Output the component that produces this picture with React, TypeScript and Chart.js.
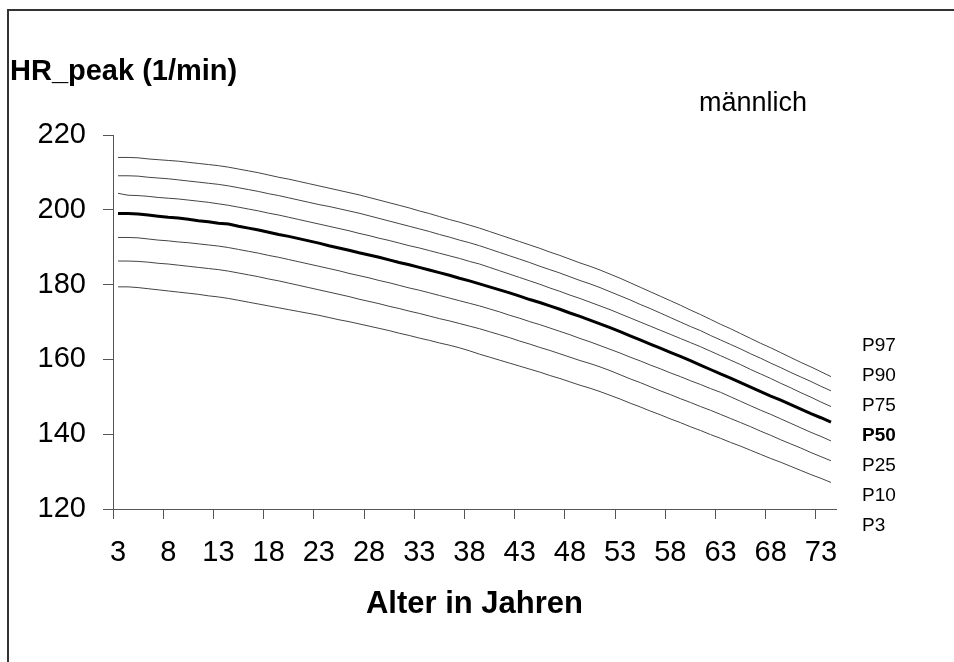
import { useEffect, useRef } from 'react';
import { Chart, registerables } from 'chart.js';

Chart.register(...registerables);

const ages = [
  '3', '4', '5', '6', '7', '8', '9', '10', '11', '12', '13', '14', '15', '16', '17', '18', '19', '20',
  '21', '22', '23', '24', '25', '26', '27', '28', '29', '30', '31', '32', '33', '34', '35', '36', '37', '38',
  '39', '40', '41', '42', '43', '44', '45', '46', '47', '48', '49', '50', '51', '52', '53', '54', '55', '56',
  '57', '58', '59', '60', '61', '62', '63', '64', '65', '66', '67', '68', '69', '70', '71', '72', '73', '74',
];

const p97 = [
  214.0, 214.0, 213.9, 213.6, 213.4, 213.2, 213.0, 212.7, 212.4, 212.1, 211.8, 211.4, 210.9, 210.4, 209.9, 209.3, 208.7, 208.2,
  207.6, 207.0, 206.4, 205.8, 205.2, 204.6, 204.0, 203.3, 202.6, 201.9, 201.2, 200.5, 199.7, 199.0, 198.2, 197.4, 196.7, 195.9,
  195.1, 194.2, 193.3, 192.4, 191.5, 190.6, 189.7, 188.7, 187.8, 186.8, 185.8, 184.9, 183.9, 182.8, 181.7, 180.5, 179.3, 178.1,
  176.9, 175.7, 174.5, 173.2, 172.0, 170.7, 169.4, 168.2, 166.9, 165.6, 164.3, 163.1, 161.8, 160.5, 159.2, 158.0, 156.7, 155.4,
];
const p90 = [
  209.1, 209.1, 209.0, 208.7, 208.5, 208.3, 208.0, 207.7, 207.4, 207.1, 206.8, 206.4, 205.9, 205.4, 204.9, 204.3, 203.8, 203.2,
  202.6, 202.0, 201.4, 200.9, 200.3, 199.7, 199.1, 198.4, 197.7, 197.0, 196.3, 195.6, 194.9, 194.2, 193.4, 192.7, 191.9, 191.2,
  190.4, 189.5, 188.6, 187.7, 186.8, 185.9, 184.9, 184.0, 183.1, 182.1, 181.1, 180.2, 179.2, 178.1, 177.0, 175.9, 174.7, 173.6,
  172.4, 171.2, 170.0, 168.8, 167.7, 166.4, 165.2, 164.0, 162.8, 161.5, 160.3, 159.0, 157.8, 156.5, 155.3, 154.1, 152.8, 151.6,
];
const p75 = [
  204.4, 203.9, 203.8, 203.6, 203.3, 203.1, 202.9, 202.6, 202.3, 202.0, 201.6, 201.2, 200.7, 200.2, 199.7, 199.1, 198.6, 198.0,
  197.4, 196.8, 196.2, 195.6, 195.0, 194.4, 193.7, 193.1, 192.4, 191.8, 191.1, 190.4, 189.8, 189.1, 188.4, 187.7, 187.0, 186.2,
  185.5, 184.6, 183.7, 182.8, 181.9, 181.0, 180.1, 179.1, 178.2, 177.2, 176.3, 175.3, 174.3, 173.3, 172.2, 171.1, 170.0, 168.9,
  167.8, 166.7, 165.6, 164.5, 163.4, 162.2, 161.0, 159.8, 158.6, 157.3, 156.1, 154.9, 153.6, 152.4, 151.1, 149.9, 148.6, 147.4,
];
const p50 = [
  199.0, 199.0, 198.9, 198.6, 198.3, 198.0, 197.8, 197.5, 197.1, 196.8, 196.4, 196.2, 195.6, 195.1, 194.6, 194.0, 193.4, 192.9,
  192.3, 191.7, 191.1, 190.4, 189.8, 189.2, 188.5, 187.9, 187.3, 186.6, 185.9, 185.3, 184.6, 183.9, 183.2, 182.5, 181.7, 181.0,
  180.2, 179.4, 178.6, 177.8, 176.9, 176.0, 175.2, 174.3, 173.4, 172.4, 171.5, 170.5, 169.5, 168.5, 167.4, 166.3, 165.2, 164.1,
  163.0, 161.9, 160.8, 159.7, 158.5, 157.3, 156.1, 155.0, 153.8, 152.6, 151.4, 150.2, 149.1, 147.9, 146.7, 145.5, 144.4, 143.2,
];
const p25 = [
  192.6, 192.6, 192.5, 192.2, 191.9, 191.7, 191.4, 191.2, 190.9, 190.6, 190.3, 189.9, 189.4, 188.9, 188.4, 187.8, 187.3, 186.7,
  186.1, 185.5, 184.9, 184.3, 183.7, 183.0, 182.4, 181.8, 181.1, 180.5, 179.8, 179.1, 178.5, 177.8, 177.1, 176.4, 175.7, 175.0,
  174.3, 173.5, 172.7, 171.8, 171.0, 170.1, 169.3, 168.4, 167.5, 166.6, 165.6, 164.7, 163.7, 162.7, 161.7, 160.6, 159.6, 158.5,
  157.5, 156.4, 155.4, 154.3, 153.3, 152.2, 151.2, 150.0, 148.8, 147.6, 146.4, 145.3, 144.1, 142.9, 141.7, 140.5, 139.4, 138.2,
];
const p10 = [
  186.3, 186.3, 186.2, 186.0, 185.7, 185.5, 185.2, 184.9, 184.6, 184.3, 184.0, 183.6, 183.1, 182.6, 182.1, 181.5, 181.0, 180.4,
  179.8, 179.2, 178.6, 178.0, 177.4, 176.8, 176.1, 175.5, 174.9, 174.2, 173.6, 172.9, 172.3, 171.6, 170.9, 170.3, 169.6, 168.9,
  168.2, 167.4, 166.6, 165.8, 164.9, 164.1, 163.2, 162.4, 161.5, 160.6, 159.7, 158.9, 158.0, 157.0, 155.9, 154.8, 153.8, 152.7,
  151.6, 150.6, 149.5, 148.5, 147.4, 146.4, 145.3, 144.2, 143.1, 142.0, 140.8, 139.7, 138.5, 137.4, 136.3, 135.1, 134.0, 132.9,
];
const p3 = [
  179.4, 179.4, 179.2, 178.9, 178.6, 178.3, 178.0, 177.7, 177.4, 177.0, 176.7, 176.3, 175.8, 175.3, 174.8, 174.3, 173.8, 173.3,
  172.8, 172.3, 171.8, 171.2, 170.6, 170.1, 169.5, 168.9, 168.3, 167.7, 167.0, 166.4, 165.7, 165.1, 164.4, 163.8, 163.1, 162.3,
  161.4, 160.6, 159.8, 159.0, 158.2, 157.4, 156.6, 155.7, 154.9, 154.0, 153.1, 152.3, 151.4, 150.4, 149.4, 148.3, 147.3, 146.2,
  145.2, 144.1, 143.1, 142.0, 141.0, 139.9, 138.9, 137.8, 136.8, 135.7, 134.6, 133.5, 132.5, 131.4, 130.3, 129.2, 128.2, 127.1,
];

const seriesNames = ['P97', 'P90', 'P75', 'P50', 'P25', 'P10', 'P3'];
const seriesValues = [p97, p90, p75, p50, p25, p10, p3];

const yMin = 120;
const yMax = 220;
const yStep = 20;
const labelEvery = 5;

const yTitle = 'HR_peak (1/min)';
const xTitle = 'Alter in Jahren';
const groupLabel = 'männlich';

const FONT = "'Liberation Sans', Arial, Helvetica, sans-serif";

const extrasPlugin = {
  id: 'extras',
  afterDraw(chart: any) {
    const { ctx, chartArea } = chart;
    ctx.save();
    // frame
    ctx.strokeStyle = '#333';
    ctx.lineWidth = 2;
    ctx.beginPath();
    ctx.moveTo(8, chart.height + 2);
    ctx.lineTo(8, 10);
    ctx.lineTo(chart.width + 2, 10);
    ctx.stroke();

    ctx.fillStyle = '#000';
    ctx.textBaseline = 'alphabetic';
    ctx.textAlign = 'left';
    ctx.font = `bold 29px ${FONT}`;
    ctx.fillText(yTitle, 10, 80);

    ctx.font = `27px ${FONT}`;
    ctx.fillText(groupLabel, 699, 111);

    ctx.textBaseline = 'middle';
    seriesNames.forEach((name, i) => {
      ctx.font = name === 'P50' ? `bold 19px ${FONT}` : `19px ${FONT}`;
      const y = chartArea.bottom + 17 - (seriesNames.length - 1 - i) * 30;
      ctx.fillText(name, chartArea.right + 26, y);
    });
    ctx.restore();
  },
};

export default function App() {
  const ref = useRef<HTMLCanvasElement | null>(null);

  useEffect(() => {
    if (!ref.current) return;
    const chart = new Chart(ref.current, {
      type: 'line',
      data: {
        labels: ages,
        datasets: seriesValues.map((vals, i) => ({
          label: seriesNames[i],
          data: vals,
          borderColor: seriesNames[i] === 'P50' ? '#000' : '#444',
          borderWidth: seriesNames[i] === 'P50' ? 3 : 1,
          pointRadius: 0,
          tension: 0,
          fill: false,
        })),
      },
      options: {
        animation: false,
        responsive: false,
        layout: { padding: { left: 0, top: 135, right: 118, bottom: 0 } },
        plugins: {
          legend: { display: false },
          tooltip: { enabled: false },
          title: { display: false },
        },
        scales: {
          x: {
            type: 'category',
            offset: true,
            grid: {
              offset: true,
              drawOnChartArea: false,
              drawTicks: true,
              tickLength: 10,
              tickColor: (c: any) => (c.index % labelEvery === 0 && c.index < ages.length ? '#555' : 'rgba(0,0,0,0)'),
            },
            border: { display: true, color: '#555', width: 1 },
            ticks: {
              autoSkip: false,
              maxRotation: 0,
              minRotation: 0,
              padding: 17,
              color: '#000',
              font: { family: FONT, size: 29 },
              callback: (_v: any, index: number) => (index % labelEvery === 0 ? ages[index] : ''),
            },
            title: {
              display: true,
              text: xTitle,
              color: '#000',
              font: { family: FONT, size: 31, weight: 'bold' },
              padding: { top: 0, bottom: 39 },
            },
            afterFit: (scale: any) => {
              scale.height = 153;
            },
          },
          y: {
            type: 'linear',
            min: yMin,
            max: yMax,
            grid: {
              drawOnChartArea: false,
              drawTicks: true,
              tickLength: 10,
              tickColor: '#555',
            },
            border: { display: true, color: '#555', width: 1 },
            ticks: {
              stepSize: yStep,
              padding: 17,
              color: '#000',
              font: { family: FONT, size: 29 },
            },
            afterFit: (scale: any) => {
              scale.width = 113;
            },
          },
        },
      },
      plugins: [extrasPlugin],
    });
    return () => chart.destroy();
  }, []);

  return (
    <canvas
      ref={ref}
      width={954}
      height={662}
      style={{ position: 'fixed', left: 0, top: 0, display: 'block', background: '#fff' }}
    />
  );
}
